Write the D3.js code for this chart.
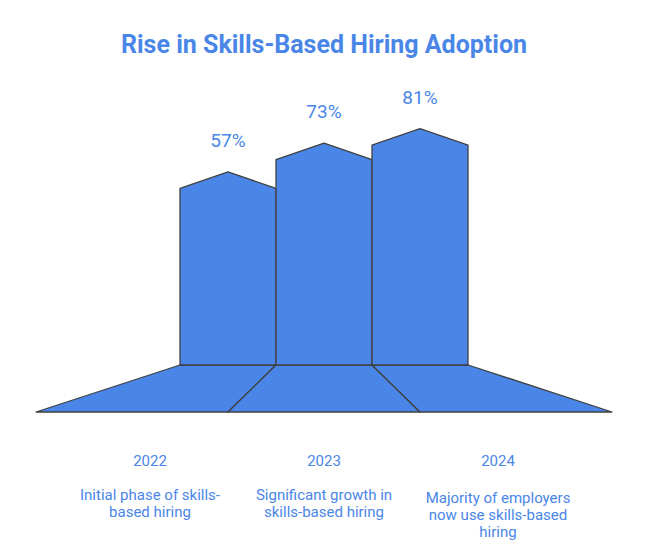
<!DOCTYPE html>
<html>
<head>
<meta charset="utf-8">
<script src="https://cdn.jsdelivr.net/npm/d3@7"></script>
<style>
  html, body { margin: 0; padding: 0; background: #fff; }
  svg { display: block; font-family: Roboto, "Noto Sans", sans-serif; }
</style>
</head>
<body>
<div id="chart"></div>
<script>
// --- Data ---
const years = ['2022', '2023', '2024'];
const adoption = [57, 73, 81];
const descriptions = [
  ['Initial phase of skills-', 'based hiring'],
  ['Significant growth in', 'skills-based hiring'],
  ['Majority of employers', 'now use skills-based', 'hiring']
];
const title = 'Rise in Skills-Based Hiring Adoption';

const width = 648, height = 555;
const blue = '#4a86e8';
const edge = '#404040';

const rows = years.map((y, i) => ({ year: y, value: adoption[i], lines: descriptions[i] }));

const svg = d3.select('#chart').append('svg')
  .attr('width', width)
  .attr('height', height)
  .attr('viewBox', `0 0 ${width} ${height}`);

// --- Scales ---
const x = d3.scaleBand().domain(years).range([180, 468]);
const xBase = d3.scaleBand().domain(years).range([36, 612]);
const xLabel = d3.scalePoint().domain(years).range([150, 498]);
const y = d3.scaleLinear().domain([0, 100]).range([291, 111]);

const barBottom = 365, baseBottom = 412, peakRise = 16.5;

// Title
svg.append('text')
  .attr('x', width / 2).attr('y', 53)
  .attr('text-anchor', 'middle')
  .attr('font-size', 25)
  .attr('font-weight', 700)
  .attr('fill', blue)
  .text(title);

// Base (perspective floor)
svg.selectAll('.base')
  .data(rows)
  .enter().append('path')
  .attr('class', 'base')
  .attr('d', d => {
    const x0 = x(d.year), x1 = x0 + x.bandwidth();
    const b0 = xBase(d.year), b1 = b0 + xBase.bandwidth();
    return `M${x0},${barBottom}L${x1},${barBottom}L${b1},${baseBottom}L${b0},${baseBottom}Z`;
  })
  .attr('fill', blue)
  .attr('stroke', edge)
  .attr('stroke-width', 1.3)
  .attr('stroke-linejoin', 'round');

// Bars with pointed tops
svg.selectAll('.bar')
  .data(rows)
  .enter().append('path')
  .attr('class', 'bar')
  .attr('d', d => {
    const x0 = x(d.year), x1 = x0 + x.bandwidth(), xc = x0 + x.bandwidth() / 2;
    const top = y(d.value);
    return `M${x0},${barBottom}L${x0},${top}L${xc},${top - peakRise}L${x1},${top}L${x1},${barBottom}Z`;
  })
  .attr('fill', blue)
  .attr('stroke', edge)
  .attr('stroke-width', 1.3)
  .attr('stroke-linejoin', 'round');

// Value labels
svg.selectAll('.value')
  .data(rows)
  .enter().append('text')
  .attr('class', 'value')
  .attr('x', d => x(d.year) + x.bandwidth() / 2)
  .attr('y', d => y(d.value) - peakRise - 25)
  .attr('text-anchor', 'middle')
  .attr('font-size', 19)
  .attr('fill', blue)
  .text(d => d.value + '%');

// Year labels
svg.selectAll('.year')
  .data(rows)
  .enter().append('text')
  .attr('class', 'year')
  .attr('x', d => xLabel(d.year))
  .attr('y', 466)
  .attr('text-anchor', 'middle')
  .attr('font-size', 15)
  .attr('fill', blue)
  .text(d => d.year);

// Descriptions
const desc = svg.selectAll('.desc')
  .data(rows)
  .enter().append('text')
  .attr('class', 'desc')
  .attr('text-anchor', 'middle')
  .attr('font-size', 15)
  .attr('fill', blue);

desc.selectAll('tspan')
  .data(d => d.lines.map((line, i) => ({ line, i, year: d.year, n: d.lines.length })))
  .enter().append('tspan')
  .attr('x', d => xLabel(d.year))
  .attr('y', d => 499.5 + (d.n - 2) * 3 + d.i * 17)
  .text(d => d.line);
</script>
</body>
</html>
